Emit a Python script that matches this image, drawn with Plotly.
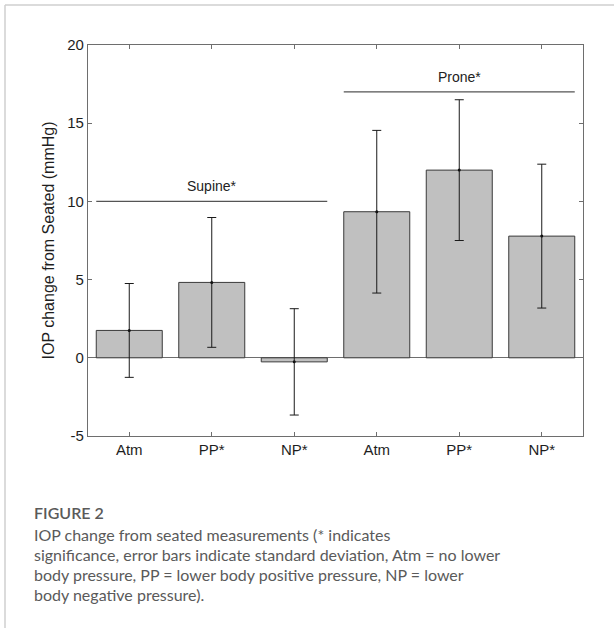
import plotly.graph_objects as go

# ---- data ----
categories = ["Atm", "PP*", "NP*", "Atm", "PP*", "NP*"]
positions = [0, 1, 2, 3, 4, 5]
means = [1.75, 4.82, -0.26, 9.34, 12.0, 7.78]
sds = [3.0, 4.15, 3.4, 5.2, 4.5, 4.6]
group_labels = ["Supine*", "Prone*"]
group_levels = [10, 17]
group_spans = [(0, 2), (3, 5)]
y_ticks = [-5, 0, 5, 10, 15, 20]
y_tick_text = ["-5", "0", "5", "10", "15", "20"]

W, H = 614, 628
L, R, T, B = 88, 31, 45, 192
pw, ph = W - L - R, H - T - B

def px(x):
    return (x - L) / pw

def py(y):
    return (H - B - y) / ph

fig = go.Figure()
fig.add_trace(go.Bar(
    x=positions, y=means, width=0.8,
    marker=dict(color="#c0c0c0", line=dict(color="#3a3a3a", width=1)),
    error_y=dict(type="data", array=sds, visible=True, color="#1a1a1a",
                 thickness=1, width=4.5),
    showlegend=False, hoverinfo="skip",
))
fig.add_trace(go.Scatter(
    x=positions, y=means, mode="markers",
    marker=dict(color="#111", size=3), showlegend=False, hoverinfo="skip",
))

for lab, lev, (a, b) in zip(group_labels, group_levels, group_spans):
    fig.add_shape(type="line", x0=a - 0.4, x1=b + 0.4, y0=lev, y1=lev,
                  xref="x", yref="y", line=dict(color="#555", width=1.3))
    fig.add_annotation(x=(a + b) / 2, y=lev, xref="x", yref="y", text=lab,
                       showarrow=False, yanchor="bottom", yshift=5,
                       font=dict(family="Liberation Sans, Arial", size=14, color="#222"))

axis_common = dict(showline=True, linecolor="#6e6e6e", linewidth=1.2, mirror="all",
                   ticks="inside", ticklen=4, tickcolor="#6e6e6e", showgrid=False,
                   tickfont=dict(family="Liberation Sans, Arial", size=15, color="#1e1e1e"))
fig.update_xaxes(range=[-0.5, 5.5], tickvals=positions, ticktext=categories,
                 zeroline=False, **axis_common)
fig.update_yaxes(range=[-5, 20], tickvals=y_ticks, ticktext=y_tick_text, zeroline=True,
                 zerolinecolor="#6e6e6e", zerolinewidth=1.2,
                 title=dict(text="IOP change from Seated (mmHg)", standoff=8,
                            font=dict(family="Liberation Sans, Arial", size=16, color="#1e1e1e")),
                 **axis_common)

# card border lines
fig.add_shape(type="line", xref="paper", yref="paper", x0=px(5), x1=px(W + 2),
              y0=py(5), y1=py(5), line=dict(color="#cfcfcf", width=1.5))
fig.add_shape(type="line", xref="paper", yref="paper", x0=px(5), x1=px(5),
              y0=py(5), y1=py(H + 2), line=dict(color="#cfcfcf", width=1.5))

caption = [
    ("FIGURE 2", 512),
    ("IOP change from seated measurements (* indicates", 534),
    ("significance, error bars indicate standard deviation, Atm = no lower", 554),
    ("body pressure, PP = lower body positive pressure, NP = lower", 574),
    ("body negative pressure).", 594),
]
for i, (txt, yy) in enumerate(caption):
    fig.add_annotation(xref="paper", yref="paper", x=px(32), y=py(yy),
                       xanchor="left", yanchor="middle", showarrow=False,
                       text=txt,
                       font=dict(family="Lato", size=16,
                                 color="#5a5a5a", weight=600 if i == 0 else 400))

fig.update_layout(width=W, height=H, margin=dict(l=L, r=R, t=T, b=B),
                  plot_bgcolor="white", paper_bgcolor="white", bargap=0.2)
fig.write_html("out.html")
